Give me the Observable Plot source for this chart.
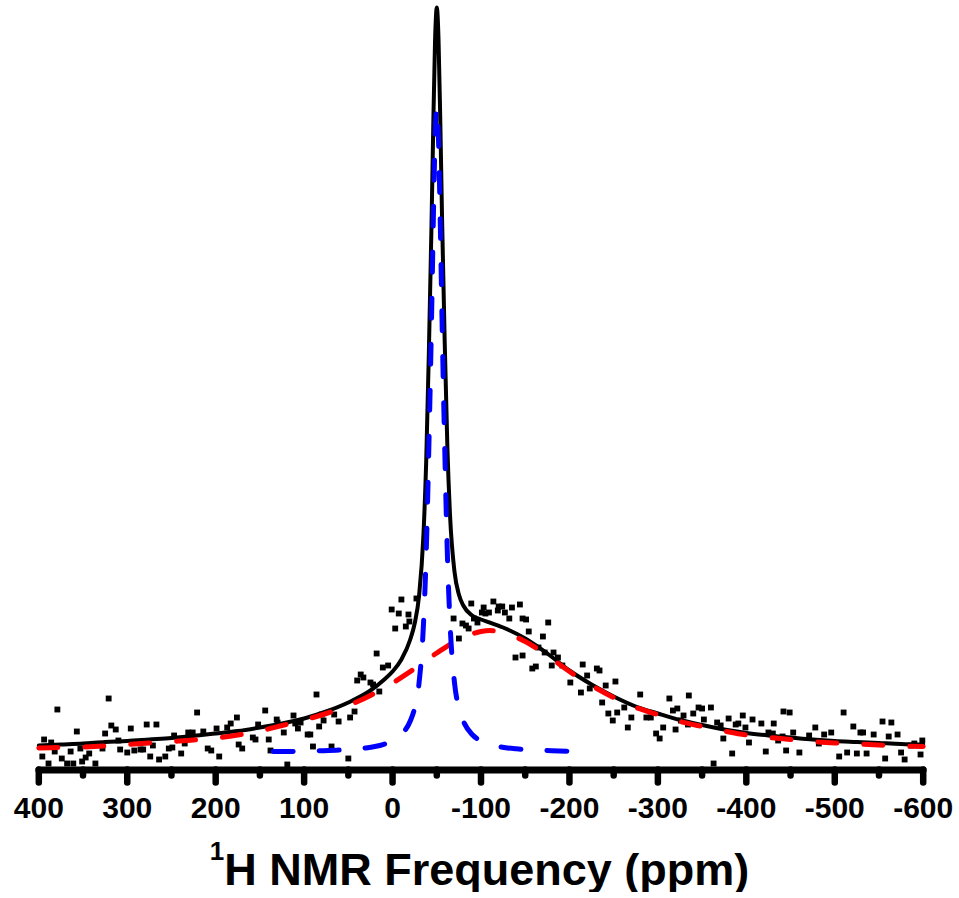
<!DOCTYPE html>
<html>
<head>
<meta charset="utf-8">
<script src="https://cdn.jsdelivr.net/npm/d3@7"></script>
<script src="https://cdn.jsdelivr.net/npm/@observablehq/plot@0.6"></script>
<style>
  html, body { margin: 0; padding: 0; background: #ffffff; }
  body { width: 959px; font-family: "Liberation Sans", Arial, sans-serif; }
  #title { margin-top: 17px; text-align: center; font-weight: bold; font-size: 45px; line-height: 45px; color: #000; }
  #title .sup { font-size: 26px; vertical-align: 25px; line-height: 0; }
</style>
</head>
<body>
<div id="chart"></div>
<div id="title"><span class="sup">1</span>H NMR Frequency (ppm)</div>
<script>
// ---- data ----
// x: 1H NMR frequency (ppm); y: intensity (arbitrary units)
const majorTicks = [400, 300, 200, 100, 0, -100, -200, -300, -400, -500, -600];
const minorTicks = [350, 250, 150, 50, -50, -150, -250, -350, -450, -550];

const scatterPpm = [396,394,389,386,382,379,374,368,364,361,357,353,351,347,343,336,328,325,321,318,313,310,308,300,296,292,285,282,278,274,271,267,264,257,253,249,247,239,235,231,226,221,214,209,205,199,196,187,183,176,174,170,158,155,152,144,140,138,131,130,123,119,112,110,107,104,96,93,90,86,83,80,78,69,66,61,50,48,43,40,36,33,25,22,18,15,11,5,1,-3,-7,-10,-15,-18,-19,-27,
  -69,-75,-79,-83,-86,-89,-92,-96,-101,-103,-105,-109,-114,-119,-120,-124,-127,-132,-135,-139,-144,-147,-147,-151,-154,-158,-162,-165,-170,-172,-176,-180,-182,-187,-192,-201,-213,-215,-220,-223,-231,-234,-237,-241,-244,-249,-252,-254,-262,-266,-270,-280,-287,-292,-298,-302,-306,-313,-317,-320,-322,-326,-329,-334,-335,-340,-346,-350,-352,-360,-363,-367,-371,-374,-380,-384,-388,-391,-396,-399,-403,-407,-417,-422,-425,-430,-431,-436,-441,-442,-445,-449,-453,-460,-471,-478,-482,-488,-496,-505,-510,-514,-521,-525,-529,-532,-536,-544,-554,-557,-561,-564,-571,-575,-579,-586,-590,-597,-599];
const scatterI = [-4,13,-11,10,1,43,-6,-11,1,-11,21,4,-9,-5,-1,-11,4,19,54,27,23,12,3,0,24,2,3,3,28,-4,7,28,-7,-4,4,5,17,-1,9,20,20,40,21,4,2,24,-4,25,29,35,8,4,15,13,28,42,13,2,33,30,20,-12,37,29,24,30,18,18,6,58,26,38,32,6,38,31,-6,35,41,72,78,75,70,68,99,61,85,87,143,124,139,153,126,138,131,154,
  134,114,129,127,124,149,134,130,140,145,139,140,151,142,146,146,140,134,145,95,148,134,97,133,121,84,86,105,116,100,130,87,100,95,87,70,60,88,77,64,84,82,50,67,39,32,71,40,45,25,35,58,35,35,19,14,25,54,42,23,44,32,37,28,57,39,45,44,33,45,-11,30,27,14,34,-1,28,29,37,25,10,33,29,1,20,19,29,12,16,41,2,40,20,0,17,25,9,18,20,-4,40,0,26,-1,20,20,-1,18,31,-6,16,30,18,0,-7,7,9,-2,12];

// total fit (black solid)
const fitPpm = [400,375,350,325,300,275,250,225,200,175,150,125,100,75,50,25,10,0,-10,-20,-25,-30,-35,-38,-41,-44,-46,-48,-49,-50,-51,-52,-54,-56,-59,-62,-65,-70,-75,-80,-90,-100,-110,-125,-150,-175,-200,-225,-250,-275,-300,-325,-350,-375,-400,-425,-450,-475,-500,-525,-550,-575,-600];
const fitI = [7,8,9,10.5,11.5,13,14.5,16.5,19,21.5,25,29,34,41,50,62,72.5,81,93,113,129,157,219,290,398,526,625,710,735,745,736,712,630,533,409,305,237,181,158,147,137,133,130,125,114,99,82,68,56,46,39,32.5,27.5,23,19.5,17,15,13,11.5,10.5,9.5,8.5,8];

// broad component (red dashed)
const broadPpm = [400,375,350,325,300,275,250,225,200,175,150,125,100,75,50,25,0,-25,-50,-75,-100,-110,-125,-150,-175,-200,-225,-250,-275,-300,-325,-350,-375,-400,-425,-450,-475,-500,-525,-550,-575,-600];
const broadI = [4.5,5,5.5,6.5,8,9.5,11,12.5,14.5,17.5,21.5,27,32.5,39,47,57,69.5,84,99.5,113,121,122,120,111,97,81,67,55,45,38,31,26,21.5,17.5,15,13,11,9.5,8.5,7.5,6.5,6];

// narrow component (blue dashed)
const narrowPpm = [135,120,100,80,60,40,30,20,10,0,-10,-20,-25,-30,-35,-38,-41,-44,-46,-48,-49,-50,-51,-52,-54,-56,-59,-62,-65,-70,-75,-80,-90,-100,-110,-120,-130,-140,-160,-180,-200];
const narrowI = [0.9,1,1.3,1.8,2.5,3.7,4.6,6,8.2,11.7,18,31.5,44.5,70,129,198,304,430,528,611,636,645,636,611,528,430,304,198,129,70,44.5,31.5,18,11.7,8.2,6,4.6,3.7,2.5,1.8,1.3];

// ---- build tables ----
const scatter = scatterPpm.map((p, i) => ({ppm: p, I: scatterI[i]}));
const fit = fitPpm.map((p, i) => ({ppm: p, I: fitI[i]}));
const broad = broadPpm.map((p, i) => ({ppm: p, I: broadI[i]}));
const narrow = narrowPpm.map((p, i) => ({ppm: p, I: narrowI[i]}));

const chart = Plot.plot({
  width: 959,
  height: 830,
  marginTop: 0,
  marginLeft: 38.3,
  marginRight: 36.3,
  marginBottom: 60.5,
  style: {background: "#ffffff", fontFamily: "'Liberation Sans', Arial, sans-serif", color: "#000", display: "block", overflow: "visible"},
  x: {domain: [400, -600], range: [38.3, 922.7], label: null},
  y: {domain: [0, 745], range: [752, 7], axis: null, label: null},
  marks: [
    Plot.line(fit, {x: "ppm", y: "I", stroke: "#000000", strokeWidth: 4, curve: "monotone-x"}),
    Plot.dot(scatter, {x: "ppm", y: "I", symbol: "square", r: 3.3, fill: "#000000", stroke: "none"}),
    Plot.line(broad, {x: "ppm", y: "I", stroke: "#ff0000", strokeWidth: 5, strokeDasharray: "19,27", strokeLinecap: "round", curve: "monotone-x"}),
    Plot.line(narrow, {x: "ppm", y: "I", stroke: "#0000ff", strokeWidth: 5, strokeDasharray: "20,26", strokeLinecap: "round", curve: "monotone-x"}),
    Plot.axisX({ticks: minorTicks, tickSize: 6, strokeWidth: 6.5, strokeLinecap: "round", tickFormat: () => "", label: null}),
    Plot.axisX({ticks: majorTicks, tickSize: 13, tickPadding: 13.5, strokeWidth: 6.5, strokeLinecap: "round",
      tickFormat: (d) => String(d), fontSize: 30, fontWeight: "bold", label: null}),
    Plot.frame({anchor: "bottom", stroke: "#000000", strokeWidth: 7, strokeLinecap: "round"})
  ]
});
document.getElementById("chart").appendChild(chart);
</script>
</body>
</html>
